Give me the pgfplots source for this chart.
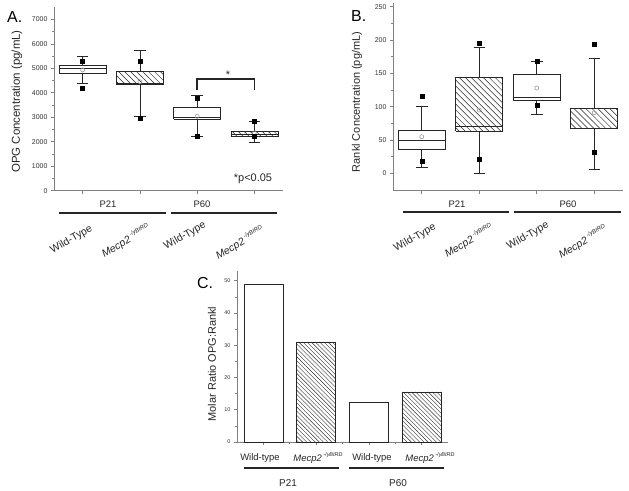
\documentclass[border=0pt]{standalone}
\usepackage{fontspec}
\setmainfont{Liberation Sans}
\usepackage{pgfplots}
\pgfplotsset{compat=1.18}
\usetikzlibrary{patterns}

\definecolor{axgray}{RGB}{128,128,128}

% diagonal hatching, lines running top-left to bottom-right
\pgfdeclarepatternformonly{hatchbig}{\pgfqpoint{-1pt}{-1pt}}{\pgfqpoint{7pt}{7pt}}{\pgfqpoint{6pt}{6pt}}{%
  \pgfsetlinewidth{0.5pt}
  \pgfpathmoveto{\pgfqpoint{0pt}{6pt}}
  \pgfpathlineto{\pgfqpoint{6.1pt}{-0.1pt}}
  \pgfusepath{stroke}}
\pgfdeclarepatternformonly{hatchsmall}{\pgfqpoint{-1pt}{-1pt}}{\pgfqpoint{5.2pt}{5.2pt}}{\pgfqpoint{4.2pt}{4.2pt}}{%
  \pgfsetlinewidth{0.4pt}
  \pgfpathmoveto{\pgfqpoint{0pt}{4.2pt}}
  \pgfpathlineto{\pgfqpoint{4.3pt}{-0.1pt}}
  \pgfusepath{stroke}}

\pgfplotsset{
  panel/.style={
    scale only axis, axis lines*=left,
    axis line style={axgray, line width=0.8bp},
    tick style={axgray, line width=0.6bp}, tick align=outside,
    major tick length=3bp, minor tick length=2bp,
    xmin=0.5, xmax=4.5, xtick={1,2,3,4}, xticklabels={,,,},
    /pgf/number format/assume math mode=true,
    /pgf/number format/1000 sep={},
    yticklabel style={font=\fontsize{7}{8}\selectfont, text=black!80},
    minor y tick num=1, clip=false,
  },
  boxline/.style={black!85, line width=0.7bp, mark=none, line join=miter},
  hatch/.style={pattern=hatchbig, pattern color=black!85},
  plain/.style={fill=white},
  sq/.style={only marks, mark=square*, mark size=2bp, black},
  avg/.style={only marks, mark=o, mark size=2bp, gray!80, line width=0.6bp},
}
% box: [style] x, lower whisker, lower quartile, median, upper quartile, upper whisker
\newcommand{\bxp}[7][plain]{%
  \pgfmathsetmacro\xl{#2-0.41}\pgfmathsetmacro\xr{#2+0.41}%
  \pgfmathsetmacro\cl{#2-0.1}\pgfmathsetmacro\cr{#2+0.1}%
  \addplot[boxline, #1] coordinates {(\xl,#4) (\xr,#4) (\xr,#6) (\xl,#6) (\xl,#4)};
  \addplot[boxline] coordinates {(\xl,#5) (\xr,#5)};
  \addplot[boxline] coordinates {(#2,#6) (#2,#7)};
  \addplot[boxline] coordinates {(#2,#4) (#2,#3)};
  \addplot[boxline] coordinates {(\cl,#7) (\cr,#7)};
  \addplot[boxline] coordinates {(\cl,#3) (\cr,#3)};
}
\tikzset{
  lab/.style={font=\fontsize{10.5}{12}\selectfont, text=black!85, inner sep=0pt},
  grp/.style={line width=2bp, black!85},
}
\newcommand{\mecp}[1]{\textit{Mecp2}\,\raisebox{0.9ex}{\fontsize{#1}{#1}\selectfont\textit{-/yBIRD}}}

\begin{document}
\begin{tikzpicture}
\useasboundingbox (0,0) rectangle (629bp,-491bp);

% panel A
\begin{axis}[panel, at={(54bp,-190.7bp)}, anchor=south west, width=229bp, height=183.6bp,
  ymin=0, ymax=7500, ytick={0,1000,...,7000}]
\bxp{1}{4385}{4794}{5000}{5134}{5475}
\bxp[hatch]{2}{3050}{4344}{4400}{4875}{5720}
\bxp{3}{2233}{2914}{2996}{3391}{3881}
\bxp[hatch]{4}{1975}{2206}{2301}{2410}{2846}
\addplot[avg] coordinates {(1,4930) (2,4453) (3,3037) (4,2370)};
\addplot[sq] coordinates {(1,5270) (1,4181) (2,5298) (2,2969) (3,3759) (3,2233) (4,2846) (4,2233)};
\addplot[black!85, line width=1.3bp] coordinates {(3,4113) (3,4562) (4,4562) (4,4113)};
\end{axis}

% panel B
\begin{axis}[panel, at={(393bp,-190.7bp)}, anchor=south west, width=230bp, height=187.3bp,
  ymin=-26, ymax=255, ytick={0,50,...,250}]
\bxp{1}{9}{36.5}{50}{64}{100}
\bxp[hatch]{2}{0}{63.5}{70}{143.5}{188.5}
\bxp{3}{88.5}{110}{114}{148.5}{168.5}
\bxp[hatch]{4}{6}{67}{67}{97.5}{172.5}
\addplot[avg] coordinates {(1,55) (2,95) (3,128) (4,91)};
\addplot[sq] coordinates {(1,116.5) (1,19) (2,195) (2,21) (3,169) (3,102.5) (4,194) (4,32.5)};
\end{axis}

% panel C
\begin{axis}[panel, at={(237bp,-442bp)}, anchor=south west, width=211bp, height=171bp,
  ymin=0, ymax=53, ytick={0,10,...,50}, minor x tick num=1,
  yticklabel style={font=\fontsize{5.5}{6}\selectfont}]
\addplot[ybar, bar width=0.74, bar shift=0pt, draw=black!85, fill=white, line width=0.7bp]
  coordinates {(1,49) (3,12.4)};
\addplot[ybar, bar width=0.74, bar shift=0pt, draw=black!85, line width=0.7bp,
  pattern=hatchsmall, pattern color=black!80]
  coordinates {(2,31) (4,15.5)};
\end{axis}

% panel letters
\node[font=\fontsize{16}{18}\selectfont, anchor=base west, inner sep=0pt] at (7bp,-22bp) {A.};
\node[font=\fontsize{16}{18}\selectfont, anchor=base west, inner sep=0pt] at (351bp,-21bp) {B.};
\node[font=\fontsize{16}{18}\selectfont, anchor=base west, inner sep=0pt] at (197bp,-288bp) {C.};

% axis titles
\node[rotate=90, font=\fontsize{11.5}{13}\selectfont, text=black!85] at (17bp,-101.5bp) {OPG Concentration (pg/mL)};
\node[rotate=90, font=\fontsize{11}{13}\selectfont, text=black!85] at (357bp,-102bp) {Rankl Concentration (pg/mL)};
\node[rotate=90, font=\fontsize{11}{13}\selectfont, text=black!85] at (212bp,-364bp) {Molar Ratio OPG:Rankl};

% annotations in A
\node[font=\fontsize{11}{13}\selectfont, text=black!85] at (228bp,-74.5bp) {*};
\node[font=\fontsize{11}{13}\selectfont, text=black!85] at (253bp,-179bp) {*p<0.05};

% groups under A
\node[font=\fontsize{9.5}{11}\selectfont, text=black!85] at (108bp,-204bp) {P21};
\node[font=\fontsize{9.5}{11}\selectfont, text=black!85] at (202bp,-204bp) {P60};
\draw[grp] (59bp,-213bp) -- (166bp,-213bp);
\draw[grp] (171bp,-213bp) -- (277bp,-213bp);
\node[lab, rotate=30] at (71.5bp,-239.5bp) {Wild-Type};
\node[lab, rotate=30] at (126bp,-241bp) {\mecp{6}};
\node[lab, rotate=30] at (185bp,-236bp) {Wild-Type};
\node[lab, rotate=30] at (240bp,-243bp) {\mecp{6}};

% groups under B
\node[font=\fontsize{9.5}{11}\selectfont, text=black!85] at (457bp,-204bp) {P21};
\node[font=\fontsize{9.5}{11}\selectfont, text=black!85] at (568bp,-204bp) {P60};
\draw[grp] (403bp,-212bp) -- (509bp,-212bp);
\draw[grp] (514bp,-212bp) -- (621bp,-212bp);
\node[lab, rotate=30] at (415bp,-238bp) {Wild-Type};
\node[lab, rotate=30] at (469bp,-241bp) {\mecp{6}};
\node[lab, rotate=30] at (528bp,-236bp) {Wild-Type};
\node[lab, rotate=30] at (583bp,-242bp) {\mecp{6}};

% groups under C
\node[font=\fontsize{9.5}{11}\selectfont, text=black!85] at (260bp,-458bp) {Wild-type};
\node[font=\fontsize{9.5}{11}\selectfont, text=black!85] at (318bp,-458bp) {\mecp{5.5}};
\node[font=\fontsize{9.5}{11}\selectfont, text=black!85] at (372bp,-458bp) {Wild-type};
\node[font=\fontsize{9.5}{11}\selectfont, text=black!85] at (430bp,-458bp) {\mecp{5.5}};
\draw[grp] (244bp,-468bp) -- (339bp,-468bp);
\draw[grp] (349bp,-468bp) -- (444bp,-468bp);
\node[font=\fontsize{10}{12}\selectfont, text=black!85] at (288bp,-483bp) {P21};
\node[font=\fontsize{10}{12}\selectfont, text=black!85] at (398bp,-483bp) {P60};
\end{tikzpicture}
\end{document}
